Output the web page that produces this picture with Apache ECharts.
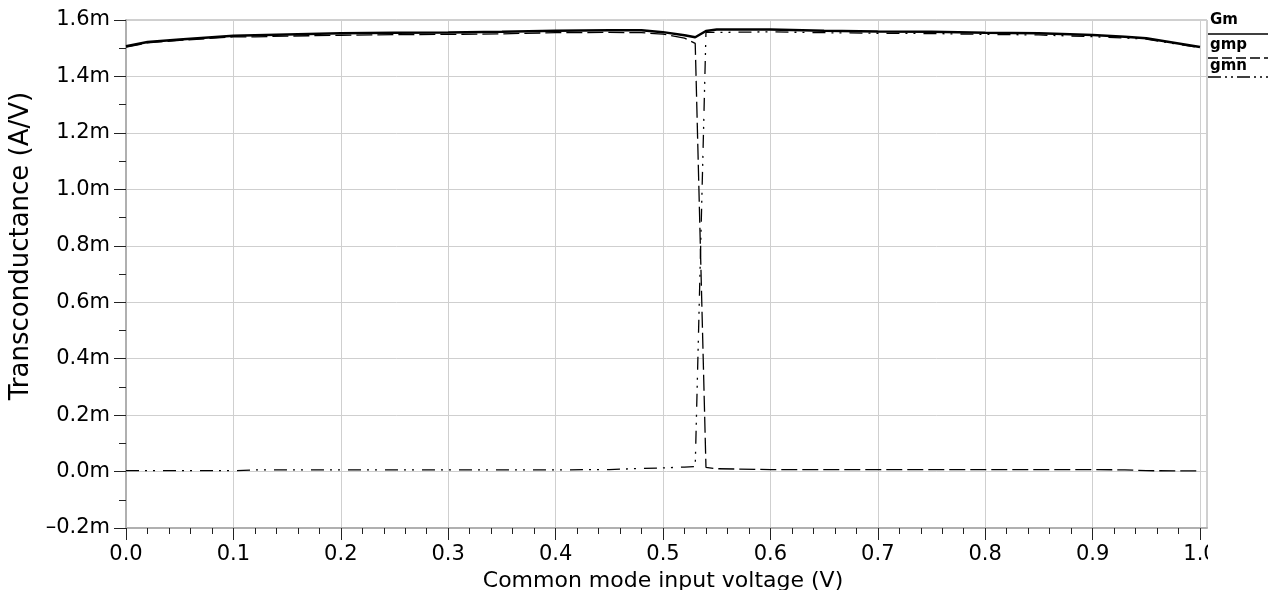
<!DOCTYPE html>
<html>
<head>
<meta charset="utf-8">
<script src="https://cdn.jsdelivr.net/npm/echarts@6/dist/echarts.min.js"></script>
<style>html,body{margin:0;padding:0;background:#fff;}#c{width:1272px;height:590px;}</style>
</head>
<body>
<div id="c"></div>
<script>
// Common mode input voltage (V)
const xs  = [0, 0.02, 0.05, 0.1, 0.12, 0.15, 0.2, 0.25, 0.3, 0.35, 0.4, 0.45, 0.48, 0.5, 0.52, 0.53, 0.54, 0.55, 0.6, 0.65, 0.7, 0.75, 0.8, 0.85, 0.9, 0.93, 0.95, 1.0];
// Transconductance in mA/V (axis labelled with "m")
const gm  = [1.507, 1.522, 1.531, 1.544, 1.546, 1.549, 1.553, 1.555, 1.556, 1.558, 1.562, 1.564, 1.564, 1.557, 1.546, 1.539, 1.561, 1.566, 1.566, 1.562, 1.559, 1.558, 1.555, 1.553, 1.547, 1.541, 1.535, 1.504];
const gmp = [1.504, 1.519, 1.528, 1.540, 1.540, 1.543, 1.546, 1.548, 1.549, 1.551, 1.555, 1.556, 1.555, 1.550, 1.536, 1.517, 0.015, 0.010, 0.007, 0.007, 0.007, 0.007, 0.007, 0.007, 0.007, 0.006, 0.003, 0.0025];
const gmn = [0.003, 0.003, 0.003, 0.003, 0.006, 0.006, 0.006, 0.006, 0.006, 0.006, 0.006, 0.007, 0.011, 0.013, 0.016, 0.018, 1.556, 1.556, 1.558, 1.555, 1.553, 1.552, 1.549, 1.547, 1.541, 1.536, 1.532, 1.502];
const seriesNames = ['Gm', 'gmp', 'gmn'];
const xTitle = 'Common mode input voltage (V)';
const yTitle = 'Transconductance (A/V)';

const FONT = '"DejaVu Sans", Verdana, sans-serif';
const pairs = arr => xs.map((x, i) => [x, arr[i]]);
const dashGmp = [16, 5];
const dashGmn = [13, 6, 2, 6, 2, 8];

const chart = echarts.init(document.getElementById('c'), null, {renderer: 'canvas'});
chart.setOption({
  animation: false,
  backgroundColor: '#fff',
  grid: [
    {left: 126, right: 72, top: 20, bottom: 62, containLabel: false, outerBoundsMode: 'none'},
    {left: 126, right: 65, top: 20, bottom: 62, containLabel: false, outerBoundsMode: 'none',
     show: true, borderColor: '#a0a0a0', borderWidth: 1, backgroundColor: 'transparent'}
  ],
  xAxis: [
    {
      type: 'value', gridIndex: 0, min: 0, max: 1.0, interval: 0.1,
      name: xTitle, nameLocation: 'middle', nameGap: 40,
      nameTextStyle: {fontFamily: FONT, fontSize: 22, color: '#000'},
      axisLine: {show: false, onZero: false},
      axisTick: {show: true, length: 12, lineStyle: {color: '#222', width: 1}},
      minorTick: {show: true, splitNumber: 5, length: 6, lineStyle: {color: '#222', width: 1}},
      axisLabel: {fontFamily: FONT, fontSize: 21, color: '#000', margin: 16, formatter: v => v.toFixed(1)},
      splitLine: {show: true, lineStyle: {color: '#cfcfcf', width: 1}}
    },
    {
      type: 'value', gridIndex: 1, min: 0, max: 1,
      axisLine: {show: true, onZero: false, lineStyle: {color: '#b0b0b0', width: 2}},
      axisTick: {show: false}, axisLabel: {show: false}, splitLine: {show: false}
    }
  ],
  yAxis: [
    {
      type: 'value', gridIndex: 0, min: -0.2, max: 1.6, interval: 0.2,
      name: yTitle, nameLocation: 'middle', nameGap: 86, nameRotate: 90,
      nameTextStyle: {fontFamily: FONT, fontSize: 26, color: '#000', padding: [0, 0, 0, 56]},
      axisLine: {show: false, onZero: false},
      axisTick: {show: true, length: 12, lineStyle: {color: '#222', width: 1}},
      minorTick: {show: true, splitNumber: 2, length: 7, lineStyle: {color: '#222', width: 1}},
      axisLabel: {fontFamily: FONT, fontSize: 21, color: '#000', margin: 16,
        formatter: v => (v < -1e-9 ? '\u2013' + Math.abs(v).toFixed(1) : Math.abs(v).toFixed(1)) + 'm'},
      splitLine: {show: false}
    },
    {
      type: 'value', gridIndex: 1, min: -0.2, max: 1.6, interval: 0.2,
      axisLine: {show: true, onZero: false, lineStyle: {color: '#b0b0b0', width: 2}},
      axisTick: {show: false}, axisLabel: {show: false},
      splitLine: {show: true, lineStyle: {color: '#cfcfcf', width: 1}}
    }
  ],
  series: [
    {name: seriesNames[1], type: 'line', xAxisIndex: 0, yAxisIndex: 0, data: pairs(gmp), symbol: 'none', z: 3,
     lineStyle: {color: '#000', width: 1.3, type: dashGmp}},
    {name: seriesNames[2], type: 'line', xAxisIndex: 0, yAxisIndex: 0, data: pairs(gmn), symbol: 'none', z: 3,
     lineStyle: {color: '#000', width: 1.3, type: dashGmn}},
    {name: seriesNames[0], type: 'line', xAxisIndex: 0, yAxisIndex: 0, data: pairs(gm), symbol: 'none', z: 4,
     lineStyle: {color: '#000', width: 2.5, type: 'solid'}}
  ],
  graphic: [
    {type: 'rect', shape: {x: 1208, y: 535, width: 64, height: 40}, style: {fill: '#fff'}, z: 100},
    {type: 'text', x: 1210, y: 13, style: {text: seriesNames[0], font: 'bold 15px ' + FONT, fill: '#000'}, z: 100},
    {type: 'line', shape: {x1: 1208, y1: 34, x2: 1268, y2: 34}, style: {stroke: '#000', lineWidth: 1.5}, z: 100},
    {type: 'text', x: 1210, y: 38, style: {text: seriesNames[1], font: 'bold 15px ' + FONT, fill: '#000'}, z: 100},
    {type: 'line', shape: {x1: 1208, y1: 58, x2: 1268, y2: 58}, style: {stroke: '#000', lineWidth: 1.3, lineDash: [10, 4]}, z: 100},
    {type: 'text', x: 1210, y: 59, style: {text: seriesNames[2], font: 'bold 15px ' + FONT, fill: '#000'}, z: 100},
    {type: 'line', shape: {x1: 1208, y1: 77, x2: 1268, y2: 77}, style: {stroke: '#000', lineWidth: 1.3, lineDash: [13, 4, 2, 4, 2, 4]}, z: 100}
  ]
});
</script>
</body>
</html>
